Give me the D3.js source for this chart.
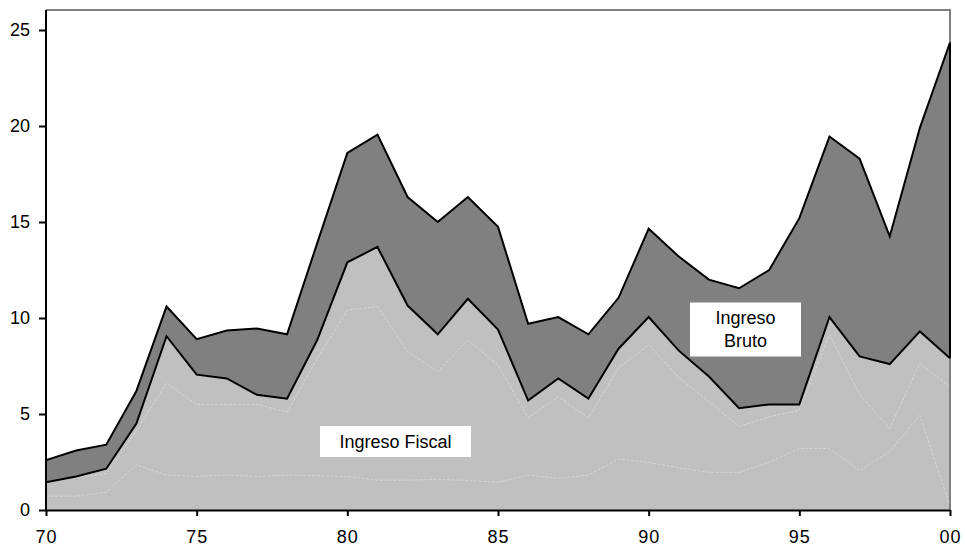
<!DOCTYPE html>
<html>
<head>
<meta charset="utf-8">
<script src="https://cdn.jsdelivr.net/npm/d3@7"></script>
<style>
  html, body { margin: 0; padding: 0; background: #fff; }
  svg { display: block; }
  text { font-family: "Liberation Sans", Arial, sans-serif; }
</style>
</head>
<body>
<svg id="chart" width="965" height="550"></svg>
<script>
// Years 1970–2000
const years = [1970,1971,1972,1973,1974,1975,1976,1977,1978,1979,
               1980,1981,1982,1983,1984,1985,1986,1987,1988,1989,
               1990,1991,1992,1993,1994,1995,1996,1997,1998,1999,2000];

// Ingreso bruto (upper envelope)
const ingresoBruto = [2.6,3.1,3.4,6.2,10.6,8.9,9.35,9.45,9.15,13.9,
                      18.6,19.55,16.3,15.0,16.3,14.75,9.7,10.05,9.15,11.05,
                      14.65,13.2,12.0,11.55,12.5,15.2,19.45,18.3,14.25,19.9,24.35];

// Ingreso fiscal
const ingresoFiscal = [1.45,1.75,2.15,4.5,9.05,7.05,6.85,6.0,5.8,8.85,
                       12.9,13.7,10.65,9.15,11.0,9.4,5.7,6.85,5.8,8.4,
                       10.05,8.3,6.95,5.3,5.5,5.5,10.05,8.0,7.6,9.3,7.9];

// Internal divisions of the fiscal income (cumulative levels)
const fiscalNivel2 = [1.4,1.7,1.9,4.15,6.6,5.5,5.5,5.5,5.1,7.9,
                      10.4,10.6,8.25,7.2,8.85,7.55,4.8,5.9,4.8,7.4,
                      8.6,6.9,5.65,4.35,4.85,5.2,9.15,6.0,4.25,7.65,6.4];
const fiscalNivel1 = [0.72,0.72,0.92,2.35,1.82,1.75,1.82,1.75,1.82,1.78,
                      1.75,1.55,1.55,1.6,1.53,1.45,1.82,1.65,1.82,2.65,
                      2.48,2.2,1.96,1.96,2.48,3.2,3.2,2.05,3.05,4.95,0.17];

// Axis ticks
const xTickYears  = [1970,1975,1980,1985,1990,1995,2000];
const xTickLabels = ["70","75","80","85","90","95","00"];
const yTickValues = [0,5,10,15,20,25];

const svg = d3.select("#chart");
const plotLeft = 46, plotRight = 950, plotTop = 10, plotBottom = 510;

const x = d3.scaleLinear().domain([1970, 2000]).range([plotLeft, plotRight]);
const y = d3.scaleLinear().domain([0, 25]).range([plotBottom, 30]);

const rows = years.map((yr, i) => ({
  yr, bruto: ingresoBruto[i], fiscal: ingresoFiscal[i],
  n2: fiscalNivel2[i], n1: fiscalNivel1[i]
}));

// Dark band: from fiscal up to bruto
svg.append("path")
  .datum(rows)
  .attr("fill", "#808080")
  .attr("d", d3.area().x(d => x(d.yr)).y0(d => y(d.fiscal)).y1(d => y(d.bruto)));

// Light area: fiscal down to zero
svg.append("path")
  .datum(rows)
  .attr("fill", "#c0c0c0")
  .attr("d", d3.area().x(d => x(d.yr)).y0(y(0)).y1(d => y(d.fiscal)));

// Faint internal division lines
["n2", "n1"].forEach(k => {
  svg.append("path")
    .datum(rows)
    .attr("fill", "none")
    .attr("stroke", "#d8d8d8")
    .attr("stroke-width", 0.9)
    .attr("stroke-dasharray", "3 1.5")
    .attr("d", d3.line().x(d => x(d.yr)).y(d => y(d[k])));
});

// Frame (top and right), gray
svg.append("path")
  .attr("fill", "none")
  .attr("stroke", "#808080")
  .attr("stroke-width", 2)
  .attr("d", `M${plotLeft},${plotTop}H${plotRight}V${plotBottom}`);

// Black outlines of both areas
const last = rows[rows.length - 1];
svg.append("path")
  .attr("fill", "none")
  .attr("stroke", "#000")
  .attr("stroke-width", 2)
  .attr("stroke-linejoin", "miter")
  .attr("d", d3.line().x(d => x(d.yr)).y(d => y(d.bruto))(rows) +
             `L${x(last.yr)},${y(last.fiscal)}`);
svg.append("path")
  .datum(rows)
  .attr("fill", "none")
  .attr("stroke", "#000")
  .attr("stroke-width", 2)
  .attr("stroke-linejoin", "miter")
  .attr("d", d3.line().x(d => x(d.yr)).y(d => y(d.fiscal)));

// Axes
const yAxis = svg.append("g")
  .attr("transform", `translate(${plotLeft},0)`)
  .call(d3.axisLeft(y).tickValues(yTickValues).tickSize(7).tickSizeOuter(0).tickPadding(9));
yAxis.select(".domain").attr("d", `M0,${plotTop}V${plotBottom}`).attr("stroke-width", 2);

const xAxis = svg.append("g")
  .attr("transform", `translate(0,${plotBottom})`)
  .call(d3.axisBottom(x).tickValues(xTickYears)
          .tickFormat((d, i) => xTickLabels[i])
          .tickSize(6).tickSizeOuter(0).tickPadding(14));
xAxis.select(".domain").attr("stroke-width", 2);

[yAxis, xAxis].forEach(g => {
  g.selectAll(".tick line").attr("stroke", "#000").attr("stroke-width", 2);
  g.selectAll("text")
    .attr("fill", "#000")
    .style("font-family", '"Liberation Sans", Arial, sans-serif')
    .style("font-size", "18px");
});
xAxis.selectAll("text").style("letter-spacing", "1px");

// Series labels in white boxes
function labelBox(cx, cy, w, h, lines) {
  const g = svg.append("g");
  g.append("rect")
    .attr("x", cx - w / 2).attr("y", cy - h / 2)
    .attr("width", w).attr("height", h)
    .attr("fill", "#fff");
  const lh = 23;
  lines.forEach((t, i) => {
    g.append("text")
      .attr("x", cx)
      .attr("y", cy + (i - (lines.length - 1) / 2) * lh)
      .attr("dy", "0.35em")
      .attr("text-anchor", "middle")
      .style("font-size", "18px")
      .text(t);
  });
}
labelBox(395.5, 441.5, 151, 31, ["Ingreso Fiscal"]);
labelBox(745.5, 329.5, 111, 54, ["Ingreso", "Bruto"]);
</script>
</body>
</html>
